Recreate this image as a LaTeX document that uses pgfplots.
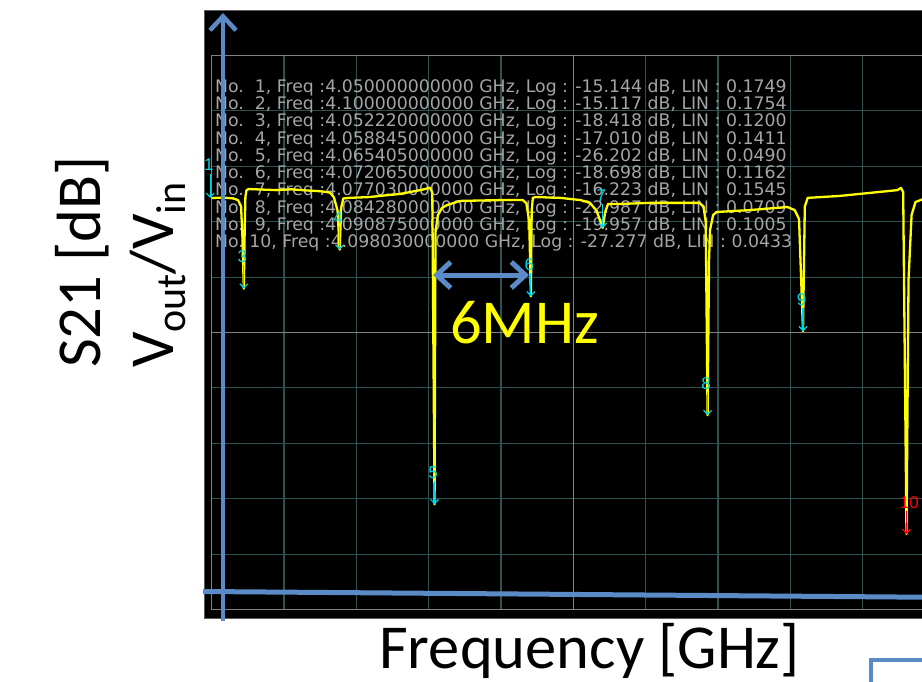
\documentclass[border=0pt]{standalone}
\usepackage{fontspec}
\setmainfont{Carlito}
\newfontfamily\dejavu{DejaVu Sans}
\newfontfamily\libsans{Liberation Sans}
\usepackage{pgfplots}
\pgfplotsset{compat=1.18}
\usetikzlibrary{arrows.meta}
\definecolor{gridteal}{RGB}{46,82,82}
\definecolor{framegray}{RGB}{130,130,130}
\definecolor{bordergray}{RGB}{90,90,90}
\definecolor{textgray}{RGB}{165,165,165}
\definecolor{vnayellow}{RGB}{255,255,0}
\definecolor{markcyan}{RGB}{0,215,230}
\definecolor{slideblue}{RGB}{91,139,199}
\begin{document}
\begin{tikzpicture}
\begin{scope}[x=1pt,y=-1pt]
\fill[white] (0,0) rectangle (922,682);
\filldraw[fill=black, draw=bordergray, line width=1pt] (204,11) rectangle (960,618);
\end{scope}
\begin{axis}[
  at={(211.7pt,-609.5pt)}, anchor=south west,
  scale only axis, width=723.3pt, height=554pt,
  xmin=0, xmax=50, ymin=-30, ymax=-10,
  xtick={0,5,10,15,20,25,30,35,40,45,50},
  ytick={-30,-28,-26,-24,-22,-20,-18,-16,-14,-12,-10},
  xticklabels={}, yticklabels={},
  major tick length=0pt,
  grid=major, grid style={draw=gridteal, line width=1.1pt},
  axis line style={draw=framegray, line width=1.3pt},
  extra x ticks={25}, extra y ticks={-20},
  extra x tick labels={}, extra y tick labels={},
  extra tick style={grid style={draw=framegray, line width=1.3pt}, major tick length=0pt},
  clip=false,
]
% marker readout lines
\node[anchor=base west, inner sep=0pt, text=textgray, font=\dejavu\fontsize{17.3}{17.3}\selectfont] at (axis cs:0.228,-11.318) {No.~~1, Freq :4.050000000000 GHz, Log : -15.144 dB, LIN : 0.1749};
\node[anchor=base west, inner sep=0pt, text=textgray, font=\dejavu\fontsize{17.3}{17.3}\selectfont] at (axis cs:0.228,-11.944) {No.~~2, Freq :4.100000000000 GHz, Log : -15.117 dB, LIN : 0.1754};
\node[anchor=base west, inner sep=0pt, text=textgray, font=\dejavu\fontsize{17.3}{17.3}\selectfont] at (axis cs:0.228,-12.569) {No.~~3, Freq :4.052220000000 GHz, Log : -18.418 dB, LIN : 0.1200};
\node[anchor=base west, inner sep=0pt, text=textgray, font=\dejavu\fontsize{17.3}{17.3}\selectfont] at (axis cs:0.228,-13.195) {No.~~4, Freq :4.058845000000 GHz, Log : -17.010 dB, LIN : 0.1411};
\node[anchor=base west, inner sep=0pt, text=textgray, font=\dejavu\fontsize{17.3}{17.3}\selectfont] at (axis cs:0.228,-13.820) {No.~~5, Freq :4.065405000000 GHz, Log : -26.202 dB, LIN : 0.0490};
\node[anchor=base west, inner sep=0pt, text=textgray, font=\dejavu\fontsize{17.3}{17.3}\selectfont] at (axis cs:0.228,-14.446) {No.~~6, Freq :4.072065000000 GHz, Log : -18.698 dB, LIN : 0.1162};
\node[anchor=base west, inner sep=0pt, text=textgray, font=\dejavu\fontsize{17.3}{17.3}\selectfont] at (axis cs:0.228,-15.072) {No.~~7, Freq :4.077030000000 GHz, Log : -16.223 dB, LIN : 0.1545};
\node[anchor=base west, inner sep=0pt, text=textgray, font=\dejavu\fontsize{17.3}{17.3}\selectfont] at (axis cs:0.228,-15.697) {No.~~8, Freq :4.084280000000 GHz, Log : -22.987 dB, LIN : 0.0709};
\node[anchor=base west, inner sep=0pt, text=textgray, font=\dejavu\fontsize{17.3}{17.3}\selectfont] at (axis cs:0.228,-16.323) {No.~~9, Freq :4.090875000000 GHz, Log : -19.957 dB, LIN : 0.1005};
\node[anchor=base west, inner sep=0pt, text=textgray, font=\dejavu\fontsize{17.3}{17.3}\selectfont] at (axis cs:0.228,-16.948) {No.~10, Freq :4.098030000000 GHz, Log : -27.277 dB, LIN : 0.0433};
% S21 trace (x = MHz above 4.05 GHz)
\addplot[vnayellow, line width=2.3pt, line join=round] table {
x y
0.00 -15.144
0.8 -15.13
1.5 -15.16
1.82 -15.22
2.03 -15.45
2.12 -16.5
2.22 -18.418
2.28 -16.3
2.33 -15.1
2.40 -14.87
2.55 -14.82
3.5 -14.84
4.5 -14.86
5.5 -14.83
6.5 -14.87
7.5 -14.9
8.18 -14.95
8.45 -15.12
8.70 -15.6
8.845 -17.010
8.95 -15.5
9.10 -15.16
9.5 -15.14
10.9 -15.11
12.0 -15.05
13.0 -15.0
14.0 -14.9
14.6 -14.84
15.09 -14.77
15.25 -14.95
15.405 -26.202
15.47 -16.37
15.64 -15.76
15.92 -15.5
16.27 -15.40
17.17 -15.25
19.9 -15.22
21.5 -15.22
21.75 -15.33
21.95 -16.0
22.065 -18.698
22.12 -15.6
22.2 -15.14
22.4 -15.11
24.1 -15.14
25.5 -15.22
26.15 -15.32
26.6 -15.6
27.03 -16.223
27.2 -15.65
27.4 -15.36
28.2 -15.36
30.3 -15.32
33.7 -15.32
34.0 -15.45
34.15 -16.0
34.28 -22.987
34.38 -17.4
34.45 -16.3
34.66 -15.76
34.9 -15.65
37.2 -15.58
39.8 -15.47
40.3 -15.58
40.6 -15.9
40.875 -19.957
41.0 -15.45
41.2 -15.14
43.4 -15.07
45.5 -14.96
47.4 -14.86
47.65 -14.78
47.8 -14.93
48.03 -27.277
48.17 -18.1
48.38 -15.76
48.65 -15.29
49.2 -15.18
50.0 -15.117
};
% marker arrows
\addplot[markcyan, line width=1.2pt, -{Straight Barb[length=4pt,width=8pt]}, quiver={u=0,v=\thisrow{v}}] table {
x y v
-0.1 -14.294 -0.85
2.22 -17.568 -0.85
8.845 -16.160 -0.85
15.405 -25.352 -0.85
22.065 -17.848 -0.85
27.03 -15.373 -0.85
34.28 -22.137 -0.85
40.875 -19.107 -0.85
};
\addplot[red, line width=1.2pt, -{Straight Barb[length=4pt,width=8pt]}, quiver={u=0,v=\thisrow{v}}] table {
x y v
48.03 -26.427 -0.85
};
% marker labels
\addplot[only marks, mark=*, mark size=0.01pt, mark options={draw=none,fill=none}, nodes near coords, point meta=explicit symbolic,
  every node near coord/.append style={anchor=center, inner sep=0pt, text=markcyan, font=\libsans\fontsize{17}{17}\selectfont}] table[meta=lab] {
x y lab
-0.2 -13.95 1
2.12 -17.27 3
8.745 -15.86 4
15.305 -25.05 5
21.965 -17.55 6
26.93 -15.07 7
34.18 -21.84 8
40.775 -18.81 9
};
\addplot[only marks, mark=*, mark size=0.01pt, mark options={draw=none,fill=none}, nodes near coords, point meta=explicit symbolic,
  every node near coord/.append style={anchor=center, inner sep=0pt, text=red, font=\libsans\fontsize{17}{17}\selectfont}] table[meta=lab] {
x y lab
48.23 -26.13 10
};
\end{axis}
\begin{scope}[x=1pt,y=-1pt]
% slide annotations
\draw[slideblue, line width=5pt] (203,591.5) -- (960,597.5);
\draw[slideblue, line width=4.5pt, -{Straight Barb[length=14pt,width=26pt]}] (223,621) -- (223,13);
\draw[slideblue, line width=5pt, {Straight Barb[length=14pt,width=26pt]}-{Straight Barb[length=14pt,width=26pt]}] (433,275) -- (529,275);
\node[anchor=base west, inner sep=0pt, text=vnayellow, font=\fontsize{62.5}{62.5}\selectfont] at (450,343) {6MHz};
\node[anchor=base west, inner sep=0pt, font=\fontsize{62.5}{62.5}\selectfont] at (379,668) {Frequency [GHz]};
\node[anchor=base west, inner sep=0pt, rotate=90, font=\fontsize{62.5}{62.5}\selectfont] at (100,368) {S21 [dB]};
\node[anchor=base west, inner sep=0pt, rotate=90, font=\fontsize{62.5}{62.5}\selectfont] at (173,368) {V\raisebox{-12pt}{\fontsize{42}{42}\selectfont out}/V\raisebox{-12pt}{\fontsize{42}{42}\selectfont in}};
\draw[slideblue, line width=4pt] (871,700) -- (871,660) -- (940,660);
\end{scope}
\pgfresetboundingbox
\path[use as bounding box] (0pt,0pt) rectangle (922pt,-682pt);
\end{tikzpicture}
\end{document}
